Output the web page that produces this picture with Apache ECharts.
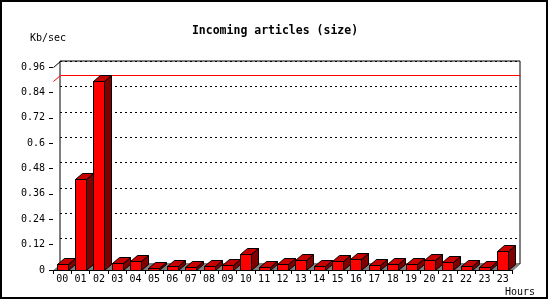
<!DOCTYPE html>
<html>
<head>
<meta charset="utf-8">
<script src="https://cdn.jsdelivr.net/npm/echarts@6/dist/echarts.min.js"></script>
<style>html,body{margin:0;padding:0;background:#fff;}#c{width:550px;height:300px;}</style>
</head>
<body>
<div id="c"></div>
<script>
const categories = ['00','01','02','03','04','05','06','07','08','09','10','11','12','13','14','15','16','17','18','19','20','21','22','23','23'];
const sizeValues = [0.027,0.430,0.894,0.032,0.043,0.009,0.019,0.013,0.017,0.022,0.076,0.013,0.027,0.046,0.017,0.041,0.052,0.022,0.027,0.027,0.046,0.036,0.017,0.013,0.088];
const yTickLabels = ['0','0.12','0.24','0.36','0.48','0.6','0.72','0.84','0.96'];
const yStep = 0.12;
const yMax = 0.96;
const maxVal = Math.max.apply(null, sizeValues);

const DX = 7, DY = 6;
const FONT = '"DejaVu Sans Mono", monospace';

const chart = echarts.init(document.getElementById('c'), null, {renderer: 'canvas'});

function renderBar(params, api) {
  const idx = api.value(0), v = api.value(1);
  const top = api.coord([idx, v]);
  const bot = api.coord([idx, 0]);
  const bw = api.size([1, 0])[0];
  const w = Math.round(bw * 0.6);
  const x0 = Math.round(top[0] - w / 2) + 0.5;
  const x1 = x0 + w;
  const yt = Math.round(top[1]) + 0.5;
  const yb = Math.round(bot[1]) + 0.5;
  const stroke = {stroke: '#000', lineWidth: 1};
  return {
    type: 'group',
    children: [
      {type: 'polygon', shape: {points: [[x1, yb], [x1 + DX, yb - DY], [x1 + DX, yt - DY], [x1, yt]]},
        style: Object.assign({fill: '#800000'}, stroke)},
      {type: 'polygon', shape: {points: [[x0, yt], [x1, yt], [x1 + DX, yt - DY], [x0 + DX, yt - DY]]},
        style: Object.assign({fill: '#c80000'}, stroke)},
      {type: 'rect', shape: {x: x0, y: yt, width: w, height: yb - yt},
        style: Object.assign({fill: '#ff0000'}, stroke)}
    ]
  };
}

function renderFloor(params, api) {
  const bw = api.size([1, 0])[0];
  const p0 = api.coord([0, 0]);
  const pn = api.coord([categories.length - 1, 0]);
  const xl = Math.round(p0[0] - bw / 2) + 0.5, xr = Math.round(pn[0] + bw / 2) + 0.5, y0 = Math.round(p0[1]) + 0.5;
  const pm = api.coord([0, maxVal]);
  const pt = api.coord([0, yMax]);
  const ym = Math.round(pm[1]) + 0.5;
  const ytp = Math.round(pt[1]) + 0.5;
  return {
    type: 'group',
    children: [
      {type: 'polygon', shape: {points: [[xl, y0], [xr, y0], [xr + DX, y0 - DY], [xl + DX, y0 - DY]]},
        style: {fill: '#808080', stroke: '#808080', lineWidth: 1}},
      {type: 'line', shape: {x1: xl, y1: ym, x2: xl + DX, y2: ym - DY},
        style: {stroke: '#ff0000', lineWidth: 1}},
      {type: 'rect', shape: {x: xl + DX, y: ym - DY - 0.5, width: xr - xl + 1, height: 1},
        style: {fill: '#ff0000'}},
      {type: 'line', shape: {x1: xl, y1: ytp, x2: xl + DX, y2: ytp - DY},
        style: {stroke: '#000', lineWidth: 1}}
    ]
  };
}

const option = {
  animation: false,
  backgroundColor: '#fff',
  title: {
    text: 'Incoming articles (size)',
    left: 'center',
    top: 20,
    textStyle: {fontFamily: FONT, fontWeight: 'bold', fontSize: 11.5, color: '#000', lineHeight: 13}
  },
  graphic: [
    {type: 'rect', shape: {x: 1, y: 1, width: 546, height: 297}, style: {fill: 'none', stroke: '#000', lineWidth: 2}, z: 100},
    {type: 'text', x: 30, y: 38, style: {text: 'Kb/sec', font: '10px ' + FONT, fill: '#000', textVerticalAlign: 'middle'}},
    {type: 'text', x: 505, y: 292, style: {text: 'Hours', font: '10px ' + FONT, fill: '#000', textVerticalAlign: 'middle'}}
  ],
  grid: [
    {left: 53, top: 67, right: 38, bottom: 30, show: false},
    {left: 60, top: 61, right: 30, bottom: 36, show: true, backgroundColor: '#fff', borderColor: '#000', borderWidth: 1}
  ],
  xAxis: [
    {gridIndex: 0, type: 'category', data: categories, boundaryGap: true,
      axisLine: {show: true, lineStyle: {color: '#000', width: 1}},
      axisTick: {show: true, interval: 0, length: 4, lineStyle: {color: '#000'}},
      axisLabel: {interval: 0, margin: 4, fontFamily: FONT, fontSize: 10, color: '#000'},
      splitLine: {show: false}, z: 5},
    {gridIndex: 1, type: 'value', min: 0, max: 1, show: false}
  ],
  yAxis: [
    {gridIndex: 0, type: 'value', min: 0, max: yMax, interval: yStep,
      axisLine: {show: false},
      axisTick: {show: true, length: 4, lineStyle: {color: '#000'}},
      axisLabel: {margin: 8, fontFamily: FONT, fontSize: 10, color: '#000',
        formatter: function (v) { return yTickLabels[Math.round(v / yStep)]; }},
      splitLine: {show: false}},
    {gridIndex: 1, type: 'value', min: 0, max: yMax, interval: yStep,
      axisLine: {show: false}, axisTick: {show: false}, axisLabel: {show: false},
      splitLine: {show: true, lineStyle: {color: '#000', type: [2, 3], width: 1}}}
  ],
  series: [
    {type: 'custom', xAxisIndex: 0, yAxisIndex: 0, data: [[0]], renderItem: renderFloor, z: 2, silent: true},
    {type: 'custom', xAxisIndex: 0, yAxisIndex: 0, renderItem: renderBar,
      data: sizeValues.map(function (v, i) { return [i, v]; }), z: 3, silent: true}
  ]
};
chart.setOption(option);
</script>
</body>
</html>
